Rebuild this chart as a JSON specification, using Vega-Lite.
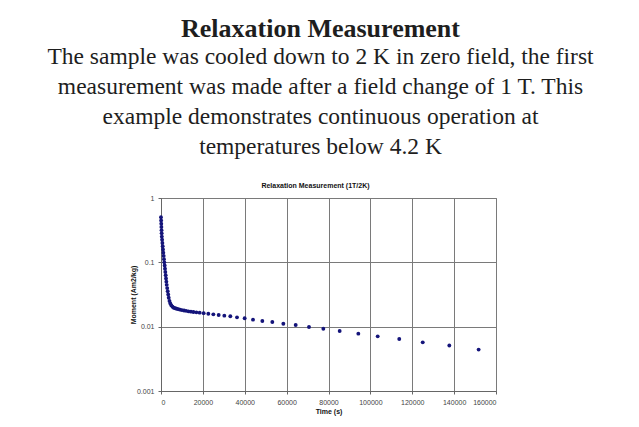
{
  "$schema": "https://vega.github.io/schema/vega-lite/v6.json",
  "width": 335,
  "height": 193,
  "autosize": {"type": "none"},
  "padding": {"left": 161, "top": 198, "right": 143, "bottom": 36},
  "background": "white",
  "title": {
    "text": "Relaxation Measurement",
    "subtitle": [
      "The sample was cooled down to 2 K in zero field, the first",
      "measurement was made after a field change of 1 T.  This",
      "example demonstrates continuous operation at",
      "temperatures below 4.2 K"
    ],
    "anchor": "middle",
    "frame": "group",
    "dx": -8,
    "font": "Liberation Serif",
    "fontSize": 26,
    "fontWeight": "bold",
    "color": "#1e1e1e",
    "subtitleFont": "Liberation Serif",
    "subtitleFontSize": 23.5,
    "subtitleColor": "#1e1e1e",
    "subtitleLineHeight": 30,
    "subtitlePadding": 3,
    "offset": 23
  },
  "config": {
    "view": {"stroke": "#7a7a7a", "strokeWidth": 1},
    "axis": {
      "labelFont": "Liberation Sans",
      "titleFont": "Liberation Sans",
      "labelFontSize": 7,
      "titleFontSize": 7,
      "labelColor": "#444444",
      "titleColor": "#111111",
      "titleFontWeight": "bold",
      "gridColor": "#7a7a7a",
      "gridWidth": 1,
      "gridOpacity": 1,
      "domainColor": "#666666",
      "tickColor": "#666666",
      "tickSize": 3
    }
  },
  "data": {
    "values": [
      {"t": 0, "m": 0.501}, {"t": 63, "m": 0.447}, {"t": 127, "m": 0.398}, {"t": 190, "m": 0.355},
      {"t": 253, "m": 0.316}, {"t": 317, "m": 0.282}, {"t": 380, "m": 0.251}, {"t": 524, "m": 0.224},
      {"t": 668, "m": 0.2}, {"t": 812, "m": 0.178}, {"t": 956, "m": 0.158}, {"t": 1100, "m": 0.141},
      {"t": 1262, "m": 0.126}, {"t": 1424, "m": 0.112}, {"t": 1586, "m": 0.1}, {"t": 1748, "m": 0.0891},
      {"t": 1910, "m": 0.0794}, {"t": 2072, "m": 0.0708}, {"t": 2234, "m": 0.0631}, {"t": 2396, "m": 0.0562},
      {"t": 2558, "m": 0.0501}, {"t": 2720, "m": 0.0447}, {"t": 2960, "m": 0.0398}, {"t": 3200, "m": 0.0355},
      {"t": 3440, "m": 0.0316}, {"t": 3680, "m": 0.0282}, {"t": 4050, "m": 0.0251}, {"t": 4450, "m": 0.0229},
      {"t": 4950, "m": 0.0214}, {"t": 5500, "m": 0.0204}, {"t": 6100, "m": 0.0197}, {"t": 6800, "m": 0.0193},
      {"t": 7500, "m": 0.019}, {"t": 8300, "m": 0.0187}, {"t": 9100, "m": 0.0184}, {"t": 10000, "m": 0.0181},
      {"t": 11000, "m": 0.0178}, {"t": 12000, "m": 0.0176}, {"t": 13100, "m": 0.0173}, {"t": 14300, "m": 0.0171},
      {"t": 15500, "m": 0.0169}, {"t": 16900, "m": 0.0167}, {"t": 18470, "m": 0.0165}, {"t": 20380, "m": 0.0162},
      {"t": 22600, "m": 0.0159}, {"t": 25000, "m": 0.01555}, {"t": 27540, "m": 0.0152}, {"t": 30250, "m": 0.01483},
      {"t": 33110, "m": 0.0145}, {"t": 36300, "m": 0.01397}, {"t": 39960, "m": 0.0135}, {"t": 43940, "m": 0.01285},
      {"t": 48400, "m": 0.01225}, {"t": 53170, "m": 0.0118}, {"t": 58430, "m": 0.0111}, {"t": 64320, "m": 0.0106},
      {"t": 70680, "m": 0.0099}, {"t": 77530, "m": 0.0093}, {"t": 85330, "m": 0.00857}, {"t": 94250, "m": 0.00778},
      {"t": 103500, "m": 0.00708}, {"t": 113800, "m": 0.00643}, {"t": 125000, "m": 0.0057}, {"t": 137700, "m": 0.0051},
      {"t": 151700, "m": 0.0044}
    ]
  },
  "layer": [
    {
      "mark": {"type": "circle", "size": 15, "color": "#14147a", "opacity": 1},
      "encoding": {
        "x": {
          "field": "t",
          "type": "quantitative",
          "scale": {"domain": [0, 160000], "nice": false, "zero": false},
          "axis": {
            "values": [0, 20000, 40000, 60000, 80000, 100000, 120000, 140000, 160000],
            "format": "d",
            "title": "Time (s)",
            "labelPadding": 4,
            "titlePadding": 2,
            "grid": true
          }
        },
        "y": {
          "field": "m",
          "type": "quantitative",
          "scale": {"type": "log", "domain": [0.001, 1], "nice": false},
          "axis": {
            "values": [0.001, 0.01, 0.1, 1],
            "format": "~g",
            "title": "Moment (Am2/kg)",
            "labelPadding": 4,
            "titlePadding": 0,
            "grid": true
          }
        }
      }
    },
    {
      "mark": {"type": "circle", "opacity": 0},
      "encoding": {
        "x": {
          "field": "t",
          "type": "quantitative",
          "axis": {
            "orient": "top",
            "title": "Relaxation Measurement (1T/2K)",
            "labels": false,
            "ticks": false,
            "domain": false,
            "grid": false,
            "titleX": 154,
            "titleAlign": "center",
            "titlePadding": 10,
            "titleFontSize": 7,
            "titleColor": "#111111"
          }
        },
        "y": {"field": "m", "type": "quantitative"}
      }
    }
  ],
  "resolve": {"axis": {"x": "independent"}}
}
